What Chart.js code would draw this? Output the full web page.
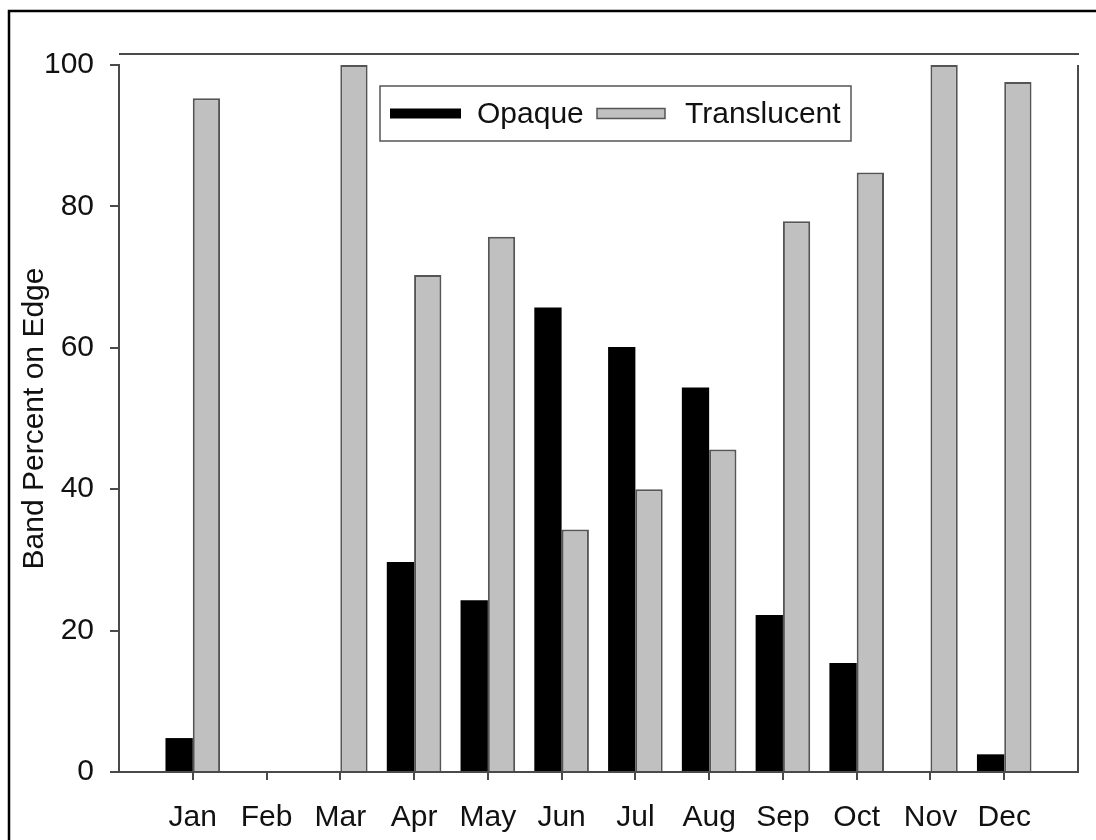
<!DOCTYPE html>
<html>
<head>
<meta charset="utf-8">
<script src="https://cdn.jsdelivr.net/npm/chart.js@4.4.1/dist/chart.umd.min.js"></script>
<style>
  html, body { margin: 0; padding: 0; background: #fff; }
  #wrap { width: 1096px; height: 840px; position: relative; }
</style>
</head>
<body>
<div id="wrap"><canvas id="myChart" width="1096" height="840"></canvas></div>
<script>
// months along the bottom
let months = ['Jan', 'Feb', 'Mar', 'Apr', 'May', 'Jun', 'Jul', 'Aug', 'Sep', 'Oct', 'Nov', 'Dec'];

// band percent on edge
let opaque      = [4.8, 0, 0, 29.7, 24.3, 65.7, 60.1, 54.4, 22.2, 15.4, 0, 2.5];
let translucent = [95.3, 0, 100, 70.3, 75.7, 34.3, 40.0, 45.6, 77.9, 84.8, 100, 97.6];

let yTicks = [0, 20, 40, 60, 80, 100];

const FONT = '"Liberation Sans", Arial, Helvetica, sans-serif';
const FSIZE = 30;
const AXIS = '#4a4a4a';

// pad one empty slot either side so the axis runs half a step past Jan and Dec
let labels1 = [''].concat(months, ['']);
function padded(arr) { return [null].concat(arr, [null]); }

// frame lines, outer border and the boxed legend
const framePlugin = {
  id: 'frame',
  afterDraw(chart) {
    const c = chart.ctx;
    const a = chart.chartArea;
    c.save();
    // outer border of the figure
    c.strokeStyle = '#000';
    c.lineWidth = 2.5;
    c.strokeRect(9, 11, 1200, 1000);

    // top and right lines of the plot frame
    c.strokeStyle = AXIS;
    c.lineWidth = 2;
    c.beginPath();
    c.moveTo(a.left, a.top - 11);
    c.lineTo(a.right + 1, a.top - 11);
    c.moveTo(a.right, a.top);
    c.lineTo(a.right, a.bottom);
    c.stroke();

    // legend box
    const lx = 380, ly = a.top + 21, lw = 471, lh = 55;
    c.strokeStyle = '#555';
    c.lineWidth = 1.5;
    c.strokeRect(lx, ly, lw, lh);
    const ds = chart.data.datasets;
    const midY = ly + lh / 2;
    c.font = FSIZE + 'px ' + FONT;
    c.textBaseline = 'middle';
    // opaque sample
    c.fillStyle = ds[0].backgroundColor;
    c.fillRect(lx + 10, midY - 5, 71, 10);
    c.fillStyle = '#111';
    c.fillText(ds[0].label, lx + 97, midY + 1);
    // translucent sample
    c.fillStyle = ds[1].backgroundColor;
    c.fillRect(lx + 217, midY - 5, 68, 10);
    c.strokeStyle = '#555';
    c.lineWidth = 1.5;
    c.strokeRect(lx + 217, midY - 5, 68, 10);
    c.fillStyle = '#111';
    c.fillText(ds[1].label, lx + 305, midY + 1);
    c.restore();
  }
};

let ctx1 = document.getElementById('myChart').getContext('2d');

let chart1 = new Chart(ctx1, {
  type: 'bar',
  data: {
    labels: labels1,
    datasets: [
      {
        label: 'Opaque',
        data: padded(opaque),
        backgroundColor: '#000000',
        borderColor: '#000000',
        borderWidth: 0
      },
      {
        label: 'Translucent',
        data: padded(translucent),
        backgroundColor: '#c0c0c0',
        borderColor: '#555555',
        borderWidth: 2,
        borderSkipped: 'bottom'
      }
    ]
  },
  options: {
    responsive: false,
    animation: false,
    events: [],
    categoryPercentage: 0.74,
    barPercentage: 1.0,
    layout: {
      padding: { top: 65, right: 18, left: 0, bottom: 0 }
    },
    plugins: {
      legend: { display: false },
      tooltip: { enabled: false },
      title: { display: false }
    },
    scales: {
      x: {
        offset: false,
        afterFit: function(scale) {
          scale.height = 68;
          scale.paddingLeft = 0;
          scale.paddingRight = 0;
        },
        grid: {
          offset: false,
          drawOnChartArea: false,
          drawTicks: true,
          tickLength: 8,
          lineWidth: 2,
          color: function(c) {
            return (c.index === 0 || c.index === labels1.length - 1) ? 'rgba(0,0,0,0)' : AXIS;
          }
        },
        border: { display: true, color: AXIS, width: 2 },
        ticks: {
          autoSkip: false,
          maxRotation: 0,
          padding: 20,
          color: '#111',
          font: { family: FONT, size: FSIZE }
        }
      },
      y: {
        min: 0,
        max: 100,
        afterBuildTicks: function(scale) {
          scale.ticks = yTicks.map(function(v) { return { value: v }; });
        },
        afterFit: function(scale) { scale.width = 119; },
        grid: {
          drawOnChartArea: false,
          drawTicks: true,
          tickLength: 9,
          lineWidth: 2,
          color: AXIS
        },
        border: { display: true, color: AXIS, width: 2 },
        ticks: {
          padding: 16,
          color: '#111',
          font: { family: FONT, size: FSIZE }
        },
        title: {
          display: true,
          text: 'Band Percent on Edge',
          color: '#111',
          padding: { top: 17, bottom: 0 },
          font: { family: FONT, size: FSIZE }
        }
      }
    }
  },
  plugins: [framePlugin]
});
</script>
</body>
</html>
